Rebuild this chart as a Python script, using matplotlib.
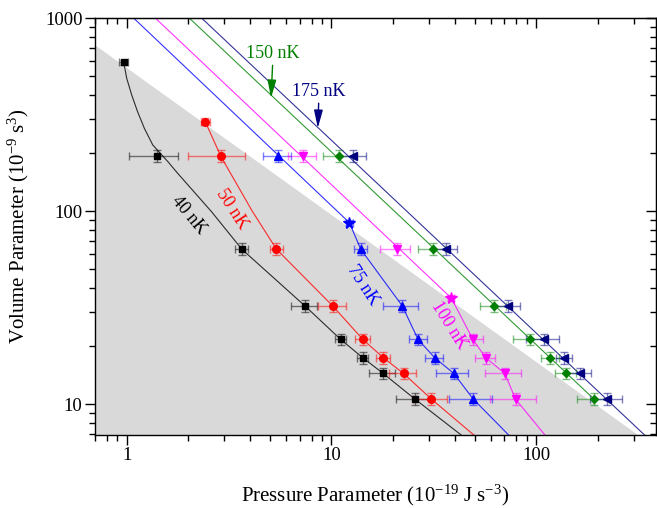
import numpy as np
import matplotlib
matplotlib.use('Agg')
import matplotlib.pyplot as plt
from matplotlib.colors import to_rgba
from matplotlib.ticker import LogLocator, FuncFormatter, NullFormatter

plt.rcParams['font.family'] = ['Liberation Serif', 'DejaVu Serif']
plt.rcParams['mathtext.fontset'] = 'custom'
plt.rcParams['mathtext.rm'] = 'Liberation Serif'
plt.rcParams['mathtext.it'] = 'Liberation Serif:italic'

# volume levels of the measured rows (10^-9 s^3) and their errors
V_rows = [193, 63.4, 32.2, 21.6, 17.4, 14.4, 10.6]
V_err = [13, 4.5, 2.3, 1.5, 1.2, 1.0, 0.75]

# pressure parameter of every measured point (10^-19 J s^-3)
P_40 = [1.41, 3.65, 7.43, 11.1, 14.2, 17.9, 25.6]
P_40_err = [0.38, 0.27, 1.1, 0.7, 0.9, 2.6, 5.0]
P_50 = [2.89, 5.39, 10.15, 14.25, 17.9, 22.5, 30.8]
P_50_err = [0.89, 0.4, 1.6, 1.2, 1.35, 3.3, 5.8]
P_75 = [5.49, 13.9, 22.2, 26.5, 31.9, 39.6, 49.3]
P_75_err = [0.87, 1.0, 4.3, 2.7, 3.1, 7.0, 11.6]
V_100 = [193, 63.4, 21.6, 17.4, 14.4, 10.6]
V_100_err = [13, 4.5, 1.5, 1.2, 1.0, 0.75]
P_100 = [7.30, 20.8, 49.1, 56.6, 70.3, 79.3]
P_100_err = [1.15, 3.5, 6.0, 6.4, 14, 20]
P_150 = [10.94, 31.2, 62.1, 93.1, 117.4, 140, 191.8]
P_150_err = [1.85, 4.7, 9, 16, 12, 17, 34]
P_175 = [12.8, 36.2, 72.7, 108.9, 137.4, 163, 222.8]
P_175_err = [1.9, 5, 11, 20, 13, 23, 40]

# critical points (40, 50, 75, 100 nK)
crit_P = [0.967, 2.42, 12.24, 38.5]
crit_V = [589, 290, 87, 35.4]
crit_P_err = [0.05, 0.12, 0.5, 1.2]
crit_V_err = [20, 12, 3, 1.3]

# model curves
curve_40_P = [0.967, 1.0, 1.058, 1.13, 1.22, 1.34, 1.59, 1.775, 2.6, 3.65, 7.43, 11.1, 14.2, 17.9, 25.6, 43.1]
curve_40_V = [589, 487, 399, 327, 268, 220, 180, 156.7, 99, 63.4, 32.2, 21.6, 17.4, 14.4, 10.6, 6.9]
curve_50_P = [2.42, 2.89, 4.1, 5.39, 10.15, 14.25, 17.9, 22.5, 30.8, 49.7]
curve_50_V = [290, 191, 100, 63.4, 32.2, 21.6, 17.4, 14.4, 10.6, 6.9]
curve_75_P = [1.08, 12.24, 13.9, 22.2, 26.5, 31.9, 39.6, 49.3, 73.5]
curve_75_V = [1000, 87, 63.4, 32.2, 21.6, 17.4, 14.4, 10.6, 6.9]
curve_100_P = [1.379, 38.5, 49.1, 56.6, 70.3, 79.3, 110.5]
curve_100_V = [1000, 35.4, 21.6, 17.4, 14.4, 10.6, 6.9]
curve_150_P = [2.02, 191.8]
curve_150_V = [1000, 10.6]
curve_175_P = [2.32, 339]
curve_175_V = [1000, 6.9]

# condensate region boundary
shade_P = [0.70, 315]
shade_V = [725, 6.91]

xlim = (0.70, 385)
ylim = (6.91, 1000)

black, red, blue, magenta, green, navy = '#000000', '#ff0000', '#0000ff', '#ff00ff', '#008000', '#000080'

fig = plt.figure(figsize=(6.57, 5.08), dpi=100)
ax = fig.add_axes([95/657, 1-435/508, (656-95)/657, (435-18)/508])
ax.set_xscale('log')
ax.set_yscale('log')

ax.fill_between(shade_P, shade_V, ylim[0], color='#d9d9d9', lw=0, zorder=0)

curves = [(curve_40_P, curve_40_V, black), (curve_50_P, curve_50_V, red),
          (curve_75_P, curve_75_V, blue), (curve_100_P, curve_100_V, magenta),
          (curve_150_P, curve_150_V, green), (curve_175_P, curve_175_V, navy)]
for cp, cv, c in curves:
    ax.plot(cp, cv, color=c, lw=0.8, alpha=0.8, zorder=2)

series = [(P_40, P_40_err, V_rows, V_err, black, 's', 5),
          (P_50, P_50_err, V_rows, V_err, red, 'o', 5.5),
          (P_75, P_75_err, V_rows, V_err, blue, '^', 6),
          (P_100, P_100_err, V_100, V_100_err, magenta, 'v', 6),
          (P_150, P_150_err, V_rows, V_err, green, 'D', 4.5),
          (P_175, P_175_err, V_rows, V_err, navy, '<', 6)]
for p, pe, v, ve, c, m, ms in series:
    ax.errorbar(p, v, xerr=pe, yerr=ve, fmt=m, color=c, ms=ms, mec=c,
                ecolor=to_rgba(c, 0.5), elinewidth=1, capsize=3, capthick=1, zorder=3)

crit_style = [(black, 's', 5), (red, 'o', 5.5), (blue, '*', 8.5), (magenta, '*', 8.5)]
for i, (c, m, ms) in enumerate(crit_style):
    ax.errorbar([crit_P[i]], [crit_V[i]], xerr=[crit_P_err[i]], yerr=[crit_V_err[i]],
                fmt=m, color=c, ms=ms, mec=c, ecolor=to_rgba(c, 0.5),
                elinewidth=1, capsize=3, capthick=1, zorder=3)

# labels on the curves
ax.text(2.0, 95, '40 nK', color=black, fontsize=13, rotation=-50, ha='center', va='center')
ax.text(3.26, 102, '50 nK', color=red, fontsize=13, rotation=-57, ha='center', va='center')
ax.text(14.3, 41.4, '75 nK', color=blue, fontsize=13, rotation=-57, ha='center', va='center')
ax.text(37.3, 25.7, '100 nK', color=magenta, fontsize=13, rotation=-58, ha='center', va='center')
arrow = '-|>,head_width=0.22,head_length=0.9'
ax.annotate('150 nK', xy=(5.07, 385), xytext=(5.19, 651), color=green, fontsize=13,
            ha='center', va='center',
            arrowprops=dict(arrowstyle=arrow, color=green, lw=1, mutation_scale=12, shrinkA=0, shrinkB=0))
ax.annotate('175 nK', xy=(8.58, 269), xytext=(8.70, 414), color=navy, fontsize=13,
            ha='center', va='center',
            arrowprops=dict(arrowstyle=arrow, color=navy, lw=1, mutation_scale=12, shrinkA=0, shrinkB=0))

ax.set_xlim(xlim)
ax.set_ylim(ylim)

fmt = FuncFormatter(lambda v, pos: '%g' % v)
for axis in (ax.xaxis, ax.yaxis):
    axis.set_major_locator(LogLocator(base=10))
    axis.set_minor_locator(LogLocator(base=10, subs=np.arange(2, 10)))
    axis.set_major_formatter(fmt)
    axis.set_minor_formatter(NullFormatter())
ax.tick_params(which='major', direction='out', length=7, width=1, labelsize=13.5, pad=2)
ax.tick_params(which='minor', direction='out', length=4, width=1)

secx = ax.secondary_xaxis('top')
secy = ax.secondary_yaxis('right')
for sec in (secx, secy):
    sec.tick_params(which='major', direction='in', length=7, width=1)
    sec.tick_params(which='minor', direction='in', length=4, width=1)
secx.xaxis.set_minor_locator(LogLocator(base=10, subs=np.arange(2, 10)))
secy.yaxis.set_minor_locator(LogLocator(base=10, subs=np.arange(2, 10)))
secx.xaxis.set_major_formatter(NullFormatter())
secy.yaxis.set_major_formatter(NullFormatter())
secx.xaxis.set_minor_formatter(NullFormatter())
secy.yaxis.set_minor_formatter(NullFormatter())

for s in ax.spines.values():
    s.set_linewidth(1)

ax.set_xlabel('Pressure Parameter (10$^{-19}$ J s$^{-3}$)', fontsize=15, labelpad=13)
ax.set_ylabel('Volume Parameter (10$^{-9}$ s$^{3}$)', fontsize=15, labelpad=10)

fig.savefig('out.png', dpi=100)
